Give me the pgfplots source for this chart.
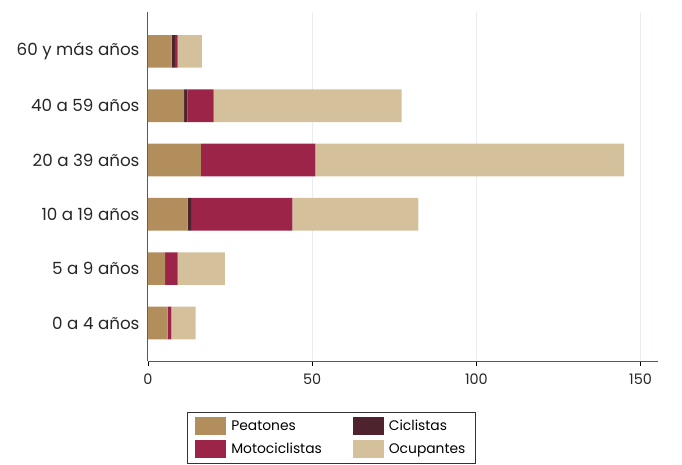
\documentclass[border=0pt]{standalone}
\usepackage{pgfplots}
\pgfplotsset{compat=1.18}
\usepackage{fontspec}
\setmainfont{Poppins}
\definecolor{peat}{HTML}{B38E5D}
\definecolor{cicl}{HTML}{4E232E}
\definecolor{moto}{HTML}{9D2449}
\definecolor{ocup}{HTML}{D4C19C}
\definecolor{gridc}{RGB}{232,238,240}
\begin{document}
\begin{tikzpicture}
\begin{axis}[
  scale only axis, width=510bp, height=349.3bp,
  xbar stacked, bar width=32.7bp,
  xmin=0, xmax=155.3, ymin=-0.70, ymax=5.73,
  ytick={0,1,2,3,4,5},
  yticklabels={0 a 4 años, 5 a 9 años, 10 a 19 años, 20 a 39 años, 40 a 59 años, 60 y más años},
  xtick={0,50,100,150},
  axis x line*=bottom, axis y line*=left,
  axis line style={draw=black!65, line width=1pt},
  xmajorgrids, grid style={draw=gridc, line width=1pt},
  tick align=outside, major tick length=5bp,
  x tick style={black, line width=0.6pt},
  y tick style={draw=none},
  /pgf/number format/assume math mode=true,
  x tick label style={font=\fontsize{14.5}{16}\selectfont, text=black!85, yshift=-4bp},
  y tick label style={font=\fontsize{16.8}{19}\selectfont, text=black!85},
  legend columns=2, legend cell align=left,
  legend image code/.code={\fill[#1] (0bp,-9bp) rectangle (31bp,9bp); \path (34bp,0bp);},
  legend style={at={(0,0)}, anchor=north west, xshift=39bp, yshift=-51bp,
    draw=black!80, line width=0.6pt, font=\fontsize{13.9}{16}\selectfont,
    inner xsep=8bp, inner ysep=5bp, row sep=5bp,
    /tikz/every even column/.append style={column sep=29bp}},
]
\coordinate (O) at (rel axis cs:0,0);
\addplot[fill=peat, draw=none] coordinates {(6.0,0) (5.2,1) (12.1,2) (16.1,3) (11.0,4) (7.2,5)};
\addplot[fill=cicl, draw=none] coordinates {(0,0) (0,1) (1.0,2) (0,3) (1.0,4) (1.0,5)};
\addplot[fill=moto, draw=none] coordinates {(1.1,0) (3.8,1) (30.9,2) (34.9,3) (8.0,4) (0.8,5)};
\addplot[fill=ocup, draw=none] coordinates {(7.4,0) (14.4,1) (38.3,2) (94.0,3) (57.2,4) (7.4,5)};
\legend{Peatones, Ciclistas, Motociclistas, Ocupantes}
\end{axis}
\pgfresetboundingbox
\path[use as bounding box] ([shift={(-148bp,-104bp)}]O) rectangle ([shift={(534bp,361bp)}]O);
\end{tikzpicture}
\end{document}
